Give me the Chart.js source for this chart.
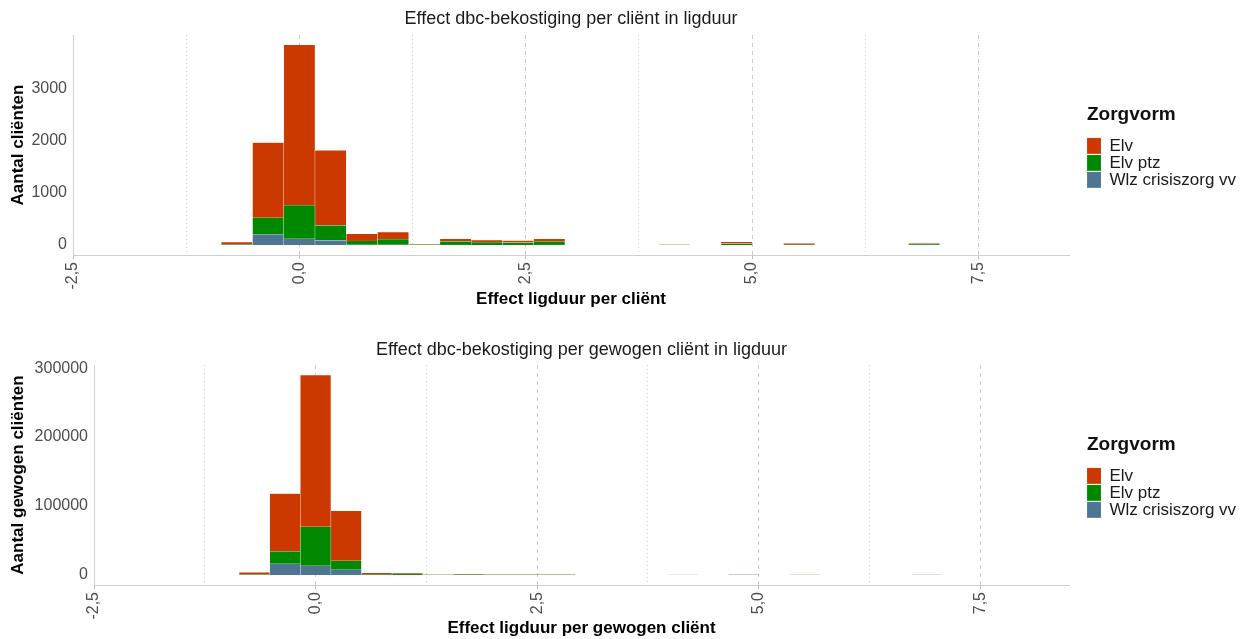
<!DOCTYPE html>
<html lang="nl">
<head>
<meta charset="UTF-8">
<title>Effect dbc-bekostiging in ligduur</title>
<script src="https://cdn.jsdelivr.net/npm/chart.js"></script>
<style>
  body { margin: 0; background: #fff; }
  canvas { display: block; }
</style>
</head>
<body>
<canvas id="perClient" width="1245" height="320"></canvas>
<canvas id="perWeighted" width="1245" height="319"></canvas>

<script>
// bin centres of the histogram (effect in ligduur)
const binCenters = [-0.69, -0.345, 0, 0.345, 0.69, 1.035, 1.38, 1.725, 2.07, 2.415, 2.76, 3.105,
                    3.45, 3.795, 4.14, 4.485, 4.83, 5.175, 5.52, 5.865, 6.21, 6.555, 6.9];

// stacking order bottom -> top
const seriesNames = ['Wlz crisiszorg vv', 'Elv ptz', 'Elv'];
const seriesColors = ['#4e7591', '#008900', '#cc3900'];

// aantal cliënten per bin
const clientWlz = [5, 204, 120, 90, 5, 5, 0, 3, 2, 2, 3, 0, 0, 0, 0, 0, 0, 0, 0, 0, 0, 0, 0];
const clientPtz = [10, 320, 645, 287, 75, 110, 8, 70, 55, 48, 67, 0, 0, 0, 2, 0, 30, 0, 8, 0, 0, 0, 16];
const clientElv = [40, 1435, 3065, 1435, 135, 135, 2, 45, 40, 35, 50, 0, 0, 0, 2, 0, 30, 0, 25, 0, 0, 0, 16];

// aantal gewogen cliënten per bin
const weightedWlz = [600, 16300, 13400, 7700, 100, 100, 0, 0, 0, 0, 0, 0, 0, 0, 0, 0, 0, 0, 0, 0, 0, 0, 0];
const weightedPtz = [600, 17900, 56400, 13000, 1200, 1800, 200, 600, 300, 300, 300, 0, 0, 0, 30, 0, 50, 0, 30, 0, 0, 0, 40];
const weightedElv = [2500, 83800, 220200, 72300, 1800, 1000, 100, 100, 200, 200, 200, 0, 0, 0, 30, 0, 80, 0, 40, 0, 0, 0, 40];

// axis ticks
const xMajorTicks = [-2.5, 0, 2.5, 5, 7.5];
const xMajorLabels = ['-2,5', '0,0', '2,5', '5,0', '7,5'];
const xMinorTicks = [-1.25, 1.25, 3.75, 6.25];
const clientTicks = [0, 1000, 2000, 3000];
const clientTickLabels = ['0', '1000', '2000', '3000'];
const weightedTicks = [0, 100000, 200000, 300000];
const weightedTickLabels = ['0', '100000', '200000', '300000'];

Chart.defaults.font.family = "'Liberation Sans', Arial, sans-serif";

function isMajor(ctx) {
    return ctx.tick && xMajorTicks.indexOf(ctx.tick.value) >= 0;
}

function drawHistogram(canvasId, opts) {
    const datasets = opts.series.map((values, i) => ({
        label: seriesNames[i],
        data: values,
        backgroundColor: seriesColors[i],
        borderColor: 'rgba(255,255,255,0.22)',
        borderWidth: 0.5,
        barPercentage: 1,
        categoryPercentage: 1,
        xAxisID: 'x',
        yAxisID: 'y'
    }));

    return new Chart(document.getElementById(canvasId), {
        type: 'bar',
        data: { labels: binCenters, datasets: datasets },
        options: {
            responsive: false,
            animation: false,
            devicePixelRatio: 1,
            layout: { padding: { left: 0, right: 8, top: 0, bottom: 0 } },
            plugins: {
                title: {
                    display: true,
                    text: opts.title,
                    fullSize: false,
                    color: '#1a1a1a',
                    font: { size: 18, weight: 'normal' },
                    padding: opts.titlePadding
                },
                legend: {
                    position: 'right',
                    fullSize: false,
                    reverse: true,
                    maxWidth: 150,
                    title: {
                        display: true,
                        text: 'Zorgvorm',
                        position: 'start',
                        color: '#111',
                        font: { size: 19, weight: 'bold' },
                        padding: { top: 4, bottom: 9 }
                    },
                    labels: {
                        boxWidth: 14,
                        boxHeight: 16,
                        padding: 0,
                        color: '#1a1a1a',
                        font: { size: 17 }
                    }
                },
                tooltip: { enabled: false }
            },
            scales: {
                x: {
                    type: 'linear',
                    min: -2.5,
                    max: 8.5,
                    offset: false,
                    stacked: true,
                    afterBuildTicks: s => {
                        s.ticks = xMajorTicks.concat(xMinorTicks).sort((a, b) => a - b).map(v => ({ value: v }));
                    },
                    afterFit: s => { s.height = opts.xAxisHeight; },
                    ticks: {
                        autoSkip: false,
                        minRotation: 90,
                        maxRotation: 90,
                        padding: 3,
                        color: '#4d4d4d',
                        font: { size: 16 },
                        callback: v => {
                            const i = xMajorTicks.indexOf(v);
                            return i < 0 ? '' : xMajorLabels[i];
                        }
                    },
                    grid: {
                        offset: false,
                        lineWidth: 1,
                        color: ctx => isMajor(ctx) ? '#cdcdcd' : '#d2d2d2',
                        drawTicks: true,
                        tickLength: 4,
                        tickColor: ctx => isMajor(ctx) ? '#bdbdbd' : 'rgba(0,0,0,0)',
                        tickBorderDash: []
                    },
                    border: {
                        display: true,
                        color: '#d0d0d0',
                        width: 1,
                        dash: ctx => !ctx.tick ? [] : (isMajor(ctx) ? [4, 4] : [1, 3])
                    },
                    title: {
                        display: true,
                        text: opts.xTitle,
                        color: '#000',
                        font: { size: 17, weight: 'bold' },
                        padding: { top: 0, bottom: opts.xTitlePad }
                    }
                },
                y: {
                    type: 'linear',
                    stacked: true,
                    min: opts.yMin,
                    max: opts.yMax,
                    afterBuildTicks: s => { s.ticks = opts.yTicks.map(v => ({ value: v })); },
                    afterFit: s => { s.width = opts.yAxisWidth; },
                    ticks: {
                        padding: 6,
                        color: '#4d4d4d',
                        font: { size: 16 },
                        callback: v => opts.yTickLabels[opts.yTicks.indexOf(v)]
                    },
                    grid: { display: false, drawTicks: false },
                    border: { display: true, color: '#d0d0d0', width: 1 },
                    title: {
                        display: true,
                        text: opts.yTitle,
                        color: '#000',
                        font: { size: 17, weight: 'bold' },
                        padding: { top: 8, bottom: 0 }
                    }
                },
                // empty spacer between plot and legend
                gap: {
                    type: 'linear',
                    position: 'right',
                    display: true,
                    afterFit: s => { s.width = 18; },
                    grid: { display: false, drawTicks: false },
                    border: { display: false },
                    ticks: { display: false },
                    title: { display: false }
                }
            }
        }
    });
}

drawHistogram('perClient', {
    title: 'Effect dbc-bekostiging per cliënt in ligduur',
    xTitle: 'Effect ligduur per cliënt',
    yTitle: 'Aantal cliënten',
    series: [clientWlz, clientPtz, clientElv],
    yMin: -190,
    yMax: 4020,
    yTicks: clientTicks,
    yTickLabels: clientTickLabels,
    yAxisWidth: 73,
    xAxisHeight: 65,
    xTitlePad: 10.8,
    titlePadding: { top: 8, bottom: 5.4 }
});

drawHistogram('perWeighted', {
    title: 'Effect dbc-bekostiging per gewogen cliënt in ligduur',
    xTitle: 'Effect ligduur per gewogen cliënt',
    yTitle: 'Aantal gewogen cliënten',
    series: [weightedWlz, weightedPtz, weightedElv],
    yMin: -14500,
    yMax: 304500,
    yTicks: weightedTicks,
    yTickLabels: weightedTickLabels,
    yAxisWidth: 94,
    xAxisHeight: 54,
    xTitlePad: 0,
    titlePadding: { top: 19, bottom: 4.4 }
});
</script>
</body>
</html>
